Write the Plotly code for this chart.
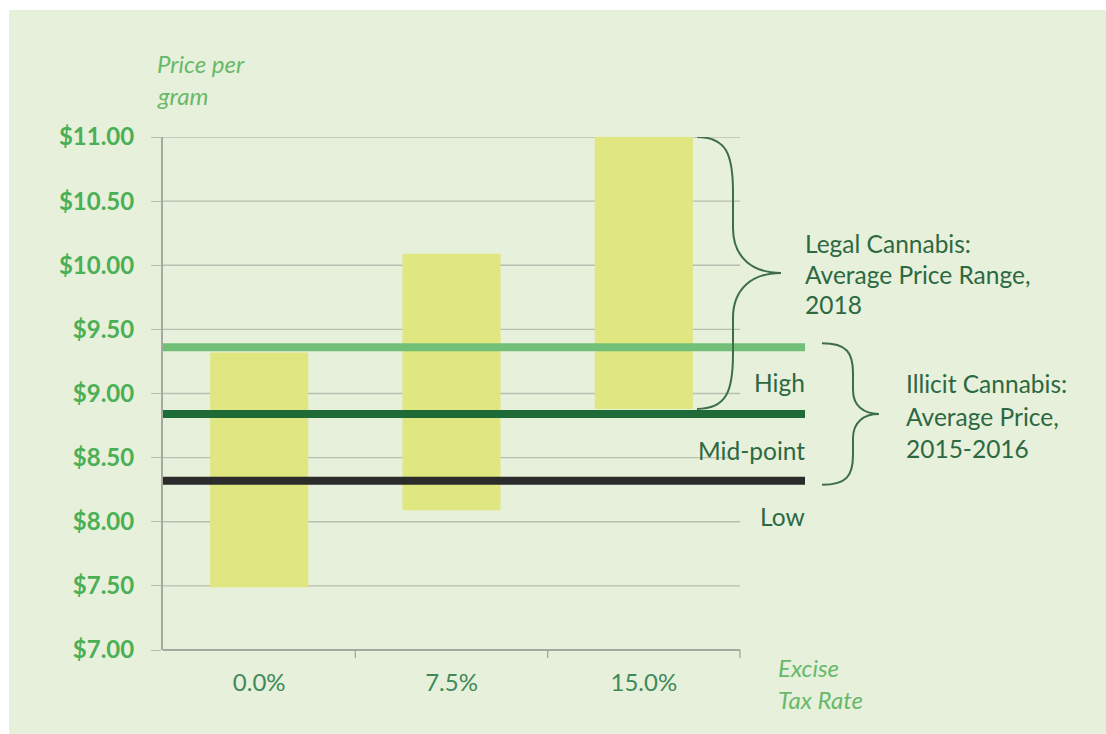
import plotly.graph_objects as go

# ---------------- data ----------------
categories = ["0.0%", "7.5%", "15.0%"]
legal_low = [7.49, 8.09, 8.88]
legal_high = [9.32, 10.09, 11.00]
illicit_labels = ["High", "Mid-point", "Low"]
illicit_values = [9.36, 8.84, 8.32]
y_ticks = [7.0, 7.5, 8.0, 8.5, 9.0, 9.5, 10.0, 10.5, 11.0]
y_ticktext = ["$%.2f" % v for v in y_ticks]
legal_text = ["Legal Cannabis:", "Average Price Range,", "2018"]
illicit_text = ["Illicit Cannabis:", "Average Price,", "2015-2016"]
y_title = ["Price per", "gram"]
x_title = ["Excise", "Tax Rate"]

# ---------------- layout geometry ----------------
W, H = 1106, 734
L, R, T, B = 163, 301, 137, 84
PW, PH = W - L - R, H - T - B
CAT_PX = 192.33
XR = [-0.5, -0.5 + PW / CAT_PX]
YR = [7.0, 11.0]

def fx(px):
    return (px - L) / PW

def fy(py):
    return (H - B - py) / PH

def data2py(v):
    return H - B - (v - YR[0]) / (YR[1] - YR[0]) * PH

def py2data(py):
    return YR[0] + (H - B - py) / PH * (YR[1] - YR[0])

BG = "#e7f0da"
GRID = "#b7beb2"
AXIS = "#a2a99e"
BAR = "#e0e680"
LINE_COLORS = ["#72c078", "#1e6b38", "#2b2b2b"]
DARK_TXT = "#2c6942"
TICK_GREEN = "#4aaf55"
XTICK_GREEN = "#3f8a5a"
TITLE_GREEN = "#68b96b"
BRACE = "#3e6d4c"
FONT = "Lato"

fig = go.Figure()

# legal price range bars
fig.add_trace(go.Bar(
    x=list(range(len(categories))),
    y=[h - l for h, l in zip(legal_high, legal_low)],
    base=legal_low,
    width=0.51,
    marker=dict(color=BAR, line=dict(width=0)),
    hoverinfo="skip",
))

# illicit price lines
for v, c in zip(illicit_values, LINE_COLORS):
    fig.add_trace(go.Scatter(
        x=XR, y=[v, v], mode="lines",
        line=dict(color=c, width=8),
        hoverinfo="skip",
    ))

shapes = []
# white outer margins
shapes.append(dict(type="rect", xref="paper", yref="paper",
                   x0=fx(-5), x1=fx(W + 5), y0=fy(10), y1=fy(-5),
                   fillcolor="white", line=dict(width=0), layer="below"))
shapes.append(dict(type="rect", xref="paper", yref="paper",
                   x0=fx(-5), x1=fx(9), y0=fy(H + 5), y1=fy(-5),
                   fillcolor="white", line=dict(width=0), layer="below"))

# gridlines
for v in y_ticks[1:]:
    shapes.append(dict(type="line", xref="x", yref="y",
                       x0=-0.5, x1=len(categories) - 0.5, y0=v, y1=v,
                       line=dict(color=GRID, width=1.3), layer="below"))
# x axis baseline and ticks
shapes.append(dict(type="line", xref="x", yref="paper",
                   x0=-0.5, x1=len(categories) - 0.5, y0=0, y1=0,
                   line=dict(color=AXIS, width=2), layer="below"))
for i in range(len(categories)):
    shapes.append(dict(type="line", xref="x", yref="paper",
                       x0=i + 0.5, x1=i + 0.5, y0=0, y1=-8 / PH,
                       line=dict(color=AXIS, width=1.3), layer="below"))

# braces
def brace(y_top_v, y_bot_v, xe, xs, xt, re, rt, pad=0):
    yt = data2py(y_top_v) - pad
    yb = data2py(y_bot_v) + pad
    ym = (yt + yb) / 2
    xc = xe + 0.8 * (xs - xe)
    xk = xs + 0.4 * (xt - xs)
    pts = [
        ("M", [(xe, yt)]),
        ("C", [(xc, yt), (xs, yt + 0.3 * re), (xs, yt + re)]),
        ("L", [(xs, ym - rt)]),
        ("C", [(xs, ym - 0.35 * rt), (xk, ym), (xt, ym)]),
        ("C", [(xk, ym), (xs, ym + 0.35 * rt), (xs, ym + rt)]),
        ("L", [(xs, yb - re)]),
        ("C", [(xs, yb - 0.3 * re), (xc, yb), (xe, yb)]),
    ]
    parts = []
    for cmd, ps in pts:
        parts.append(cmd + " " + " ".join("%.5f,%.5f" % (fx(a), py2data(b)) for a, b in ps))
    return dict(type="path", xref="paper", yref="y", path=" ".join(parts),
                line=dict(color=BRACE, width=2), layer="above")

shapes.append(brace(legal_high[2], legal_low[2], 697, 733, 781, 55, 45))
shapes.append(brace(illicit_values[0], illicit_values[2], 822, 853, 879, 30, 24, pad=4))

# ---------------- annotations ----------------
anns = []

def ann(text, px, py, xanchor="left", size=24, color=DARK_TXT, style="normal", weight="normal"):
    anns.append(dict(text=text, xref="paper", yref="paper", x=fx(px), y=fy(py),
                     xanchor=xanchor, yanchor="middle", showarrow=False,
                     font=dict(family=FONT, size=size, color=color, style=style, weight=weight)))

for t, py in zip(legal_text, [243, 274, 304]):
    ann(t, 803, py, size=24.5)
for t, py in zip(illicit_text, [383, 416, 448]):
    ann(t, 904, py, size=24.5)
for t, py in zip(illicit_labels, [382, 450, 516]):
    ann(t, 807, py, xanchor="right", size=24.5)
for t, py in zip(y_title, [64, 96]):
    ann(t, 155, py, size=24, color=TITLE_GREEN, style="italic")
for t, py in zip(x_title, [667, 699]):
    ann(t, 776, py, size=24, color=TITLE_GREEN, style="italic")

fig.update_layout(
    width=W, height=H,
    margin=dict(l=L, r=R, t=T, b=B, pad=0),
    paper_bgcolor=BG, plot_bgcolor=BG,
    showlegend=False,
    shapes=shapes, annotations=anns,
    xaxis=dict(range=XR, showgrid=False, zeroline=False, showline=False,
               tickvals=list(range(len(categories))), ticktext=categories,
               ticks="", ticklabelstandoff=16,
               tickfont=dict(family=FONT, size=24, color=XTICK_GREEN)),
    yaxis=dict(range=YR, showgrid=False, zeroline=False,
               showline=True, linecolor=AXIS, linewidth=2,
               tickvals=y_ticks, ticktext=y_ticktext,
               ticks="outside", ticklen=10, tickcolor=GRID, tickwidth=1.3,
               ticklabelstandoff=12,
               tickfont=dict(family=FONT, size=24, color=TICK_GREEN, weight="bold")),
)

fig.write_html("out.html")
